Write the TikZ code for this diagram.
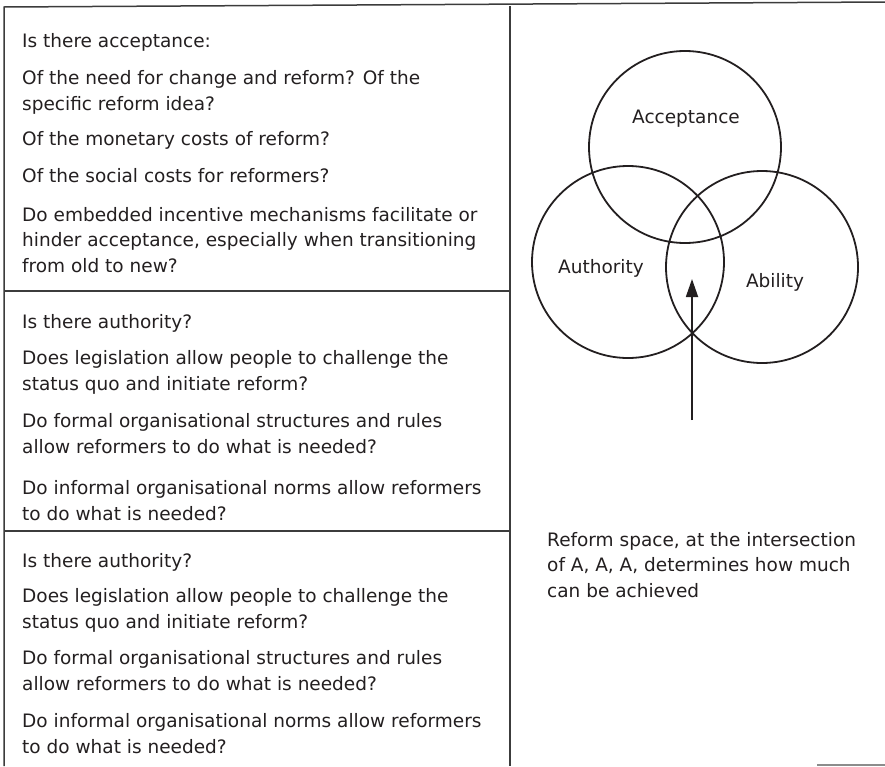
\documentclass[tikz,border=0pt]{standalone}
\usepackage{fontspec}
\setmainfont{DejaVu Sans}
\usetikzlibrary{positioning, arrows.meta}
\definecolor{inkBase}{RGB}{ 35, 31, 32}
\definecolor{frameBase}{RGB}{ 60, 60, 60}
\tikzset{
    % multi-line texts sit on the baseline of their LAST line
    qtext/.style={
        anchor=base west, inner sep=0pt, align=left,
        font=\fontsize{18.5}{25.5}\selectfont, text=inkBase,
    },
    setlabel/.style={
        anchor=base, inner sep=0pt,
        font=\fontsize{18.5}{25.5}\selectfont, text=inkBase,
    },
    setcircle/.style={
        circle, draw=inkBase, line width=1.8pt,
        minimum size=192pt, inner sep=0pt,
    },
    frameline/.style={
        draw=frameBase, line width=1.5pt,
    },
    pointer/.style={
        -{Triangle[length=18pt, width=12pt]}, draw=inkBase,
        line width=1.8pt,
    },
}

\begin{document}
\begin{tikzpicture}[x=1pt, y=-1pt]
\useasboundingbox (0,0) rectangle (885,766);

% ============================================================
%   Frame
% ============================================================
\coordinate (tl) at (4,7);
\coordinate (tr) at (885,2);
\coordinate (bl) at (4,766);
\coordinate (mt) at (510,6);
\coordinate (mb) at (510,766);
\coordinate (d1l) at (4,291);
\coordinate (d1r) at (510,291);
\coordinate (d2l) at (4,531);
\coordinate (d2r) at (510,531);
\coordinate (brl) at (817,765);
\coordinate (brr) at (885,765);

\draw[frameline] (bl) -- (tl) -- (tr);
\draw[frameline] (mt) -- (mb);
\draw[frameline] (d1l) -- (d1r);
\draw[frameline] (d2l) -- (d2r);
\draw[frameline, draw=black!45] (brl) -- (brr);

% ============================================================
%   Left column: acceptance
% ============================================================
\node[qtext] (acc0) at (22, 47)  {Is there acceptance:};
\node[qtext] (acc1) at (22,110)  {Of the need for change and reform? Of the\\specific reform idea?};
\node[qtext] (acc2) at (22,145)  {Of the monetary costs of reform?};
\node[qtext] (acc3) at (22,182)  {Of the social costs for reformers?};
\node[qtext] (acc4) at (22,272)  {Do embedded incentive mechanisms facilitate or\\hinder acceptance, especially when transitioning\\from old to new?};

% ============================================================
%   Left column: authority
% ============================================================
\node[qtext] (aut0) at (22,328)  {Is there authority?};
\node[qtext] (aut1) at (22,390)  {Does legislation allow people to challenge the\\status quo and initiate reform?};
\node[qtext] (aut2) at (22,453)  {Do formal organisational structures and rules\\allow reformers to do what is needed?};
\node[qtext] (aut3) at (22,520)  {Do informal organisational norms allow reformers\\to do what is needed?};

% ============================================================
%   Left column: third block
% ============================================================
\node[qtext] (abl0) at (22,567)  {Is there authority?};
\node[qtext] (abl1) at (22,628)  {Does legislation allow people to challenge the\\status quo and initiate reform?};
\node[qtext] (abl2) at (22,690)  {Do formal organisational structures and rules\\allow reformers to do what is needed?};
\node[qtext] (abl3) at (22,753)  {Do informal organisational norms allow reformers\\to do what is needed?};

% ============================================================
%   Right column: three circles
% ============================================================
\node[setcircle] (cAcc) at (685,147) {};
\node[setcircle] (cAut) at (628,262) {};
\node[setcircle] (cAbl) at (762,267) {};

\node[setlabel] (lAcc) at (686,123) {Acceptance};
\node[setlabel] (lAut) at (601,273) {Authority};
\node[setlabel] (lAbl) at (775,287) {Ability};

% pointer into the common region
\coordinate (pStart) at (692,420);
\coordinate (pEnd)   at (692,279);
\draw[pointer] (pStart) -- (pEnd);

\node[qtext] (note) at (547,597)
    {Reform space, at the intersection\\of A, A, A, determines how much\\can be achieved};

\end{tikzpicture}
\end{document}
